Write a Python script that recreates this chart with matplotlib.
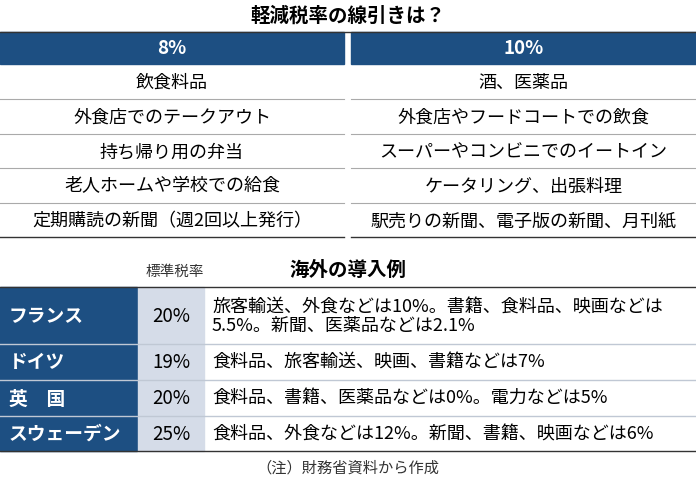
import matplotlib.pyplot as plt
from matplotlib.patches import Rectangle

plt.rcParams["font.family"] = ["Noto Sans CJK JP", "DejaVu Sans"]

title_top = "軽減税率の線引きは？"
rate_headers = ["8%", "10%"]
items_8 = ["飲食料品", "外食店でのテークアウト", "持ち帰り用の弁当",
           "老人ホームや学校での給食", "定期購読の新聞（週2回以上発行）"]
items_10 = ["酒、医薬品", "外食店やフードコートでの飲食",
            "スーパーやコンビニでのイートイン", "ケータリング、出張料理",
            "駅売りの新聞、電子版の新聞、月刊紙"]

title_bottom = "海外の導入例"
rate_label = "標準税率"
countries = ["フランス", "ドイツ", "英　国", "スウェーデン"]
std_rates = ["20%", "19%", "20%", "25%"]
details = ["旅客輸送、外食などは10%。書籍、食料品、映画などは\n5.5%。新聞、医薬品などは2.1%",
           "食料品、旅客輸送、映画、書籍などは7%",
           "食料品、書籍、医薬品などは0%。電力などは5%",
           "食料品、外食などは12%。新聞、書籍、映画などは6%"]
note = "（注）財務省資料から作成"

BLUE = "#1d4f82"
LIGHT = "#d5dce8"
W, H = 696, 485

fig = plt.figure(figsize=(6.96, 4.85), dpi=100)
ax = fig.add_axes([0, 0, 1, 1])
ax.set_xlim(0, W)
ax.set_ylim(H, 0)
ax.axis("off")

# top table
ax.text(W / 2, 16, title_top, ha="center", va="center", fontsize=14, fontweight="bold")
ax.plot([0, W], [33, 33], color="#333333", lw=1)
cols = [(0, 344), (351, W)]
for (x0, x1), hdr, items in zip(cols, rate_headers, [items_8, items_10]):
    ax.add_patch(Rectangle((x0, 33), x1 - x0, 32, color=BLUE))
    ax.text((x0 + x1) / 2, 49, hdr, ha="center", va="center", color="white",
            fontsize=13.5, fontweight="bold")
    for i, it in enumerate(items):
        yc = 83 + 34.5 * i
        ax.text((x0 + x1) / 2, yc, it, ha="center", va="center", fontsize=13)
        if i < len(items) - 1:
            ax.plot([x0, x1], [yc + 17, yc + 17], color="#aaaaaa", lw=0.8)
    ax.plot([x0, x1], [238, 238], color="#333333", lw=1)

# bottom table
ax.text(175, 272, rate_label, ha="center", va="center", fontsize=10.5, color="#333333")
ax.text(W / 2, 270, title_bottom, ha="center", va="center", fontsize=14, fontweight="bold")
bounds = [288, 345, 381, 417, 452]
ax.plot([0, W], [bounds[0], bounds[0]], color="#333333", lw=1)
for i in range(len(countries)):
    y0, y1 = bounds[i], bounds[i + 1]
    yc = (y0 + y1) / 2
    ax.add_patch(Rectangle((0, y0), 137, y1 - y0, color=BLUE))
    ax.add_patch(Rectangle((138, y0), 66, y1 - y0, color=LIGHT))
    ax.text(9, yc, countries[i], ha="left", va="center", color="white",
            fontsize=13.5, fontweight="bold")
    ax.text(171, yc, std_rates[i], ha="center", va="center", fontsize=13.5)
    ax.text(212, yc, details[i], ha="left", va="center", fontsize=13, linespacing=1.0)
    if i < len(countries) - 1:
        ax.plot([0, W], [y1, y1], color="#c0c8d4", lw=1)
ax.plot([0, W], [bounds[-1], bounds[-1]], color="#333333", lw=1)
ax.text(W / 2, 468, note, ha="center", va="center", fontsize=11, color="#333333")

fig.savefig("out.png", dpi=100)
